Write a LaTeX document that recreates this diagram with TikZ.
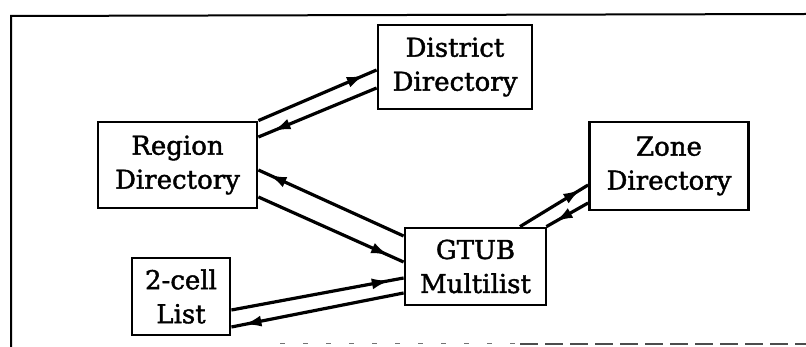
\documentclass[tikz,border=0pt]{standalone}
\usepackage{fontspec}
\setmainfont{DejaVu Serif}
\newfontfamily\boxfont{DejaVu Serif}[BoldFont={DejaVu Serif},BoldFeatures={FakeBold=1.6}]
\usetikzlibrary{arrows.meta,decorations.markings,calc}
\begin{document}
\begin{tikzpicture}[x=1pt,y=-1pt,
  box/.style={draw,line width=2.8pt,align=center,inner sep=0pt,
    font=\boxfont\bfseries\fontsize{26}{34}\selectfont},
  link/.style={line width=3.2pt,postaction={decorate},
    decoration={markings,mark=at position #1 with {\arrow{Latex[length=18pt,width=11pt]}}}},
  frame/.style={line width=2pt},
]
\useasboundingbox (0,0) rectangle (806,347);
% frame
\draw[frame] (11,347) -- (11,16) -- (806,14);
\draw[line width=1pt,black!55,dash pattern=on 5pt off 18pt] (280,344) -- (520,344);
\draw[line width=1.4pt,black!70,dash pattern=on 18pt off 7pt] (520,344) -- (806,344);
% boxes
\node[box,minimum width=154pt,minimum height=84pt] (dist) at (455,67) {District\\Directory};
\node[box,minimum width=159pt,minimum height=86pt] (region) at (177.5,165) {Region\\Directory};
\node[box,minimum width=159pt,minimum height=88pt] (zone) at (669,166) {Zone\\Directory};
\node[box,minimum width=141pt,minimum height=77pt] (gtub) at (475.5,266.5) {GTUB\\Multilist};
\node[box,minimum width=98pt,minimum height=77pt] (two) at (181,296.5) {2-cell\\List};
% connectors
\draw[link=0.9] (region.north east) -- ($(dist.west)+(0,3)$);
\draw[link=0.88] ($(dist.west)+(0,21)$) -- ($(region.east)+(0,-28)$);
\draw[link=0.93] ($(gtub.west)+(0,-30.5)$) -- ($(region.east)+(0,5)$);
\draw[link=0.9] ($(region.east)+(0,32)$) -- ($(gtub.west)+(0,-4.5)$);
\draw[link=0.92] ($(two.east)+(0,13.5)$) -- ($(gtub.west)+(0,11.5)$);
\draw[link=0.93] ($(gtub.west)+(0,26.5)$) -- ($(two.east)+(0,30.5)$);
\draw[link=0.9] ($(gtub.north)+(44.5,0)$) -- ($(zone.west)+(0,19)$);
\draw[link=0.8] ($(zone.west)+(0,37)$) -- ($(gtub.north east)+(-1,0)$);
\end{tikzpicture}
\end{document}
